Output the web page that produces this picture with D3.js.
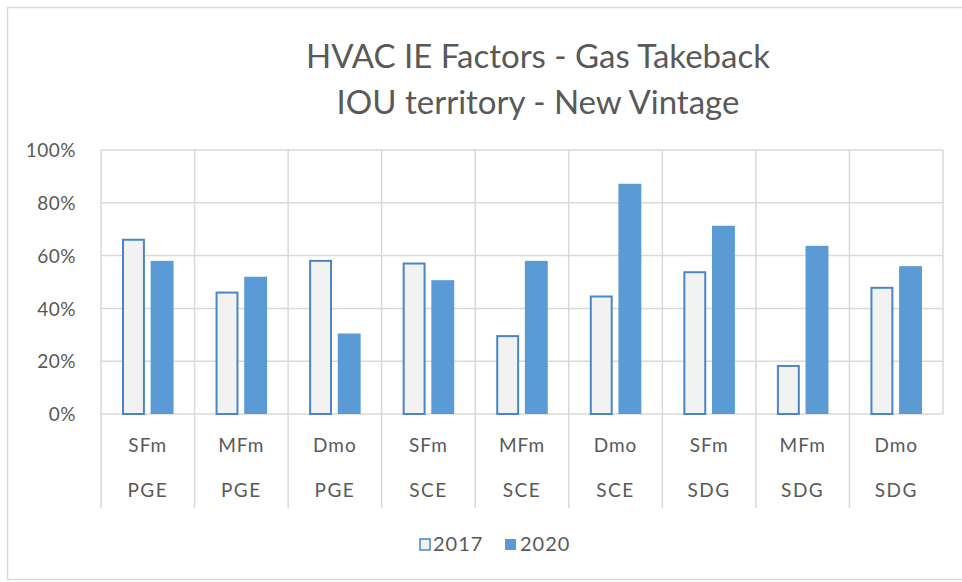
<!DOCTYPE html>
<html>
<head>
<meta charset="UTF-8">
<title>HVAC IE Factors</title>
<script src="https://d3js.org/d3.v7.min.js"></script>
<style>
    html, body { margin:0; padding:0; background:#fff; }
    text { font-family: Lato, "Open Sans", sans-serif; fill:#595959; }
</style>
</head>
<body>
<div id="chart"></div>
<script>
    // données
    const types = ["SFm", "MFm", "Dmo", "SFm", "MFm", "Dmo", "SFm", "MFm", "Dmo"];
    const utilities = ["PGE", "PGE", "PGE", "SCE", "SCE", "SCE", "SDG", "SDG", "SDG"];
    const v2017 = [0.66, 0.46, 0.58, 0.57, 0.295, 0.445, 0.537, 0.182, 0.478];
    const v2020 = [0.58, 0.52, 0.305, 0.507, 0.58, 0.872, 0.713, 0.637, 0.56];
    const yTicks = [0, 0.2, 0.4, 0.6, 0.8, 1.0];
    const seriesNames = ["2017", "2020"];

    const W = 962, H = 582;
    const margin = { top: 150, right: 19, bottom: 168, left: 101 };
    const width = W - margin.left - margin.right,
          height = H - margin.top - margin.bottom;

    const svg = d3.select("#chart").append("svg")
        .attr("width", W).attr("height", H);

    // cadre du graphique
    svg.append("rect")
        .attr("x", 7.5).attr("y", 7.5)
        .attr("width", W).attr("height", 572)
        .attr("fill", "none").attr("stroke", "#d9d9d9").attr("stroke-width", 1.5);

    // titre
    const title = svg.append("text")
        .attr("x", 538).attr("text-anchor", "middle")
        .style("font-size", "33px");
    title.append("tspan").attr("x", 538).attr("y", 68).text("HVAC IE Factors - Gas Takeback");
    title.append("tspan").attr("x", 538).attr("y", 114).text("IOU territory - New Vintage");

    const g = svg.append("g").attr("transform", `translate(${margin.left},${margin.top})`);

    const idx = d3.range(types.length);
    const x = d3.scaleBand().domain(idx).range([0, width]);
    const x1 = d3.scaleBand().domain(seriesNames).range([21, x.bandwidth() - 21]).paddingInner(0.2);
    const y = d3.scaleLinear().domain([0, 1]).range([height, 0]);

    // grille horizontale
    g.selectAll(".hgrid").data(yTicks).join("line")
        .attr("x1", 0).attr("x2", width)
        .attr("y1", d => y(d)).attr("y2", d => y(d))
        .attr("stroke", "#d9d9d9").attr("stroke-width", 1.5);

    // lignes verticales (catégories), prolongées sous l'axe
    g.selectAll(".vgrid").data(d3.range(types.length + 1)).join("line")
        .attr("x1", d => d * x.step()).attr("x2", d => d * x.step())
        .attr("y1", 0)
        .attr("y2", d => (d === types.length) ? height : height + 94)
        .attr("stroke", "#d9d9d9").attr("stroke-width", 1.5);

    // axe Y
    const yAxis = g.append("g").attr("transform", "translate(-22,0)")
        .call(d3.axisLeft(y).tickValues(yTicks).tickFormat(d3.format(".0%")).tickSize(0));
    yAxis.select(".domain").remove();
    yAxis.selectAll("text").style("font-size", "19px").style("letter-spacing", "0.5px")
        .attr("fill", "#595959").attr("dy", "0.35em");

    // étiquettes de catégories
    g.selectAll(".lab1").data(idx).join("text")
        .attr("x", d => x(d) + x.bandwidth() / 2).attr("y", height + 38)
        .attr("text-anchor", "middle").style("font-size", "19px").style("letter-spacing", "1px")
        .text(d => types[d]);
    g.selectAll(".lab2").data(idx).join("text")
        .attr("x", d => x(d) + x.bandwidth() / 2).attr("y", height + 83)
        .attr("text-anchor", "middle").style("font-size", "19px").style("letter-spacing", "1.5px")
        .text(d => utilities[d]);

    // barres
    g.selectAll(".b2017").data(idx).join("rect")
        .attr("x", d => x(d) + x1("2017") + 1)
        .attr("y", d => y(v2017[d]))
        .attr("width", x1.bandwidth() - 2)
        .attr("height", d => y(0) - y(v2017[d]))
        .attr("fill", "#f2f2f2").attr("stroke", "#4a86c5").attr("stroke-width", 2);
    g.selectAll(".b2020").data(idx).join("rect")
        .attr("x", d => x(d) + x1("2020"))
        .attr("y", d => y(v2020[d]))
        .attr("width", x1.bandwidth())
        .attr("height", d => y(0) - y(v2020[d]))
        .attr("fill", "#5b9bd5");

    // légende
    const leg = svg.append("g").attr("transform", "translate(419,538)");
    leg.append("rect").attr("x", 1).attr("y", 1).attr("width", 10).attr("height", 11)
        .attr("fill", "#f2f2f2").attr("stroke", "#4a86c5").attr("stroke-width", 1.5);
    leg.append("text").attr("x", 14).attr("y", 13).style("font-size", "20px").style("letter-spacing", "1px")
        .text(seriesNames[0]);
    leg.append("rect").attr("x", 86).attr("y", 1).attr("width", 11).attr("height", 11)
        .attr("fill", "#5b9bd5");
    leg.append("text").attr("x", 101).attr("y", 13).style("font-size", "20px").style("letter-spacing", "1px")
        .text(seriesNames[1]);
</script>
</body>
</html>
